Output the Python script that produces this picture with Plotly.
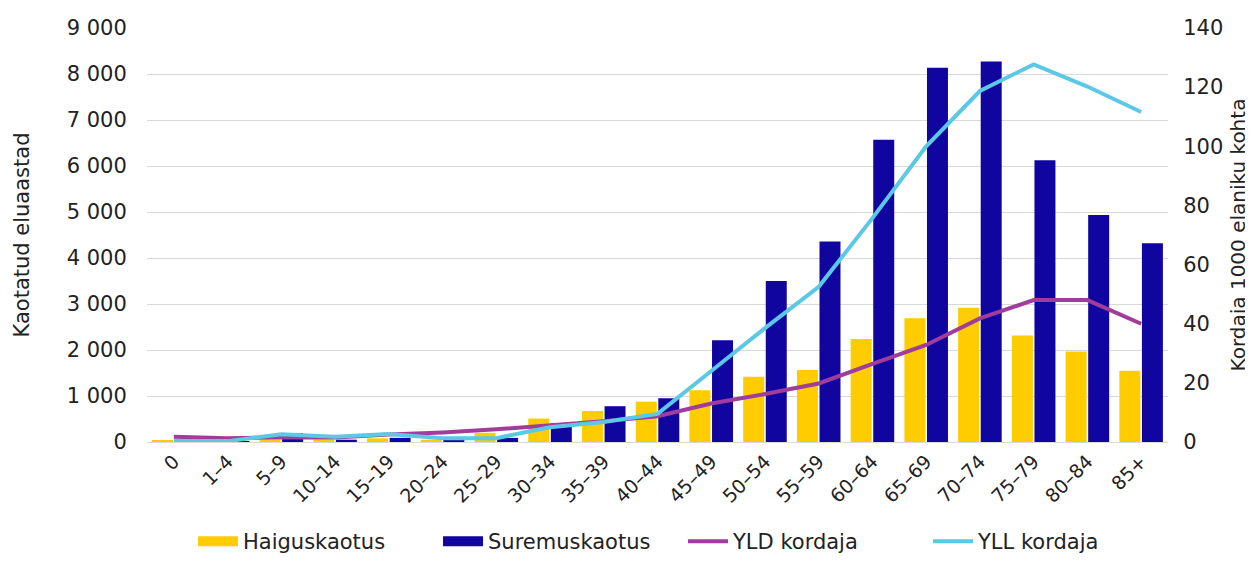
import plotly.graph_objects as go

categories = ["0", "1–4", "5–9", "10–14", "15–19", "20–24", "25–29", "30–34", "35–39",
              "40–44", "45–49", "50–54", "55–59", "60–64", "65–69", "70–74", "75–79",
              "80–84", "85+"]
haiguskaotus = [40, 10, 50, 55, 80, 50, 200, 510, 675, 877, 1125, 1420, 1565, 2240,
                2690, 2920, 2315, 1965, 1550]
suremuskaotus = [5, 5, 190, 50, 90, 30, 90, 405, 778, 950, 2210, 3500, 4360, 6570,
                 8135, 8270, 6125, 4935, 4320]
yld_kordaja = [1.8, 1.3, 1.5, 1.5, 2.5, 3.2, 4.3, 5.6, 7.0, 8.7, 13.0, 16.2, 19.8,
               26.4, 32.8, 41.8, 48.0, 48.0, 40.0]
yll_kordaja = [0.3, 0.3, 2.6, 1.8, 2.7, 1.3, 1.3, 5.0, 6.8, 9.5, 24.0, 38.5, 52.5,
               75.7, 100.0, 118.7, 127.7, 120.2, 111.6]
left_ticks = list(range(0, 9001, 1000))
right_ticks = list(range(0, 141, 20))

FONT = "DejaVu Sans"
TXT = "#222222"
YELLOW, BLUE, PURPLE, CYAN = "#FFCC00", "#10069F", "#A03C9C", "#5BC8E6"

fig = go.Figure()
fig.add_trace(go.Bar(x=categories, y=haiguskaotus, name="Haiguskaotus", showlegend=False,
                     legendgroup="h", marker=dict(color=YELLOW, line=dict(width=0))))
fig.add_trace(go.Bar(x=categories, y=suremuskaotus, name="Suremuskaotus", showlegend=False,
                     legendgroup="s", marker=dict(color=BLUE, line=dict(width=0))))
fig.add_trace(go.Scatter(x=categories, y=yld_kordaja, name="YLD kordaja", yaxis="y2",
                         mode="lines", line=dict(color=PURPLE, width=4), legendrank=3))
fig.add_trace(go.Scatter(x=categories, y=yll_kordaja, name="YLL kordaja", yaxis="y2",
                         mode="lines", line=dict(color=CYAN, width=4), legendrank=4))
# legend swatches for the bar series (wide boxes as in the original)
fig.add_trace(go.Scatter(x=[None], y=[None], name="Haiguskaotus", mode="lines",
                         legendgroup="h", line=dict(color=YELLOW, width=14), legendrank=1))
fig.add_trace(go.Scatter(x=[None], y=[None], name="Suremuskaotus", mode="lines",
                         legendgroup="s", line=dict(color=BLUE, width=14), legendrank=2))

# page body has an 8px margin, so the figure is sized/placed to compensate
fig.update_layout(
    width=1245, height=554,
    margin=dict(l=139, r=85, t=20, b=120),
    paper_bgcolor="white", plot_bgcolor="white",
    font=dict(family=FONT, size=21, color=TXT),
    separators=", ",
    barmode="group", bargap=0.16, bargroupgap=0.07,
    showlegend=True,
    legend=dict(orientation="h", x=0.525, xanchor="center", yref="container",
                y=-0.027, yanchor="bottom",
                font=dict(size=21, color=TXT), itemwidth=40,
                entrywidth=190, entrywidthmode="pixels"),
    xaxis=dict(tickangle=-45, tickfont=dict(size=19), showgrid=False, automargin=False,
               showline=True, linecolor="#d9d9d9", linewidth=1, ticks=""),
    yaxis=dict(range=[0, 9000], tickvals=left_ticks, tickformat=",d", automargin=False,
               showgrid=True, gridcolor="#d9d9d9", gridwidth=1, zeroline=False,
               tickfont=dict(size=21),
               title=dict(text="Kaotatud eluaastad", font=dict(size=21), standoff=31),
               ticks="outside", ticklen=15, tickcolor="white"),
    yaxis2=dict(range=[0, 140], tickvals=right_ticks, overlaying="y", side="right",
                showgrid=False, zeroline=False, automargin=False, tickfont=dict(size=21),
                ticks="outside", ticklen=10, tickcolor="white",
                title=dict(text="Kordaja 1000 elaniku kohta", font=dict(size=20), standoff=8)),
)

fig.write_html("out.html")
